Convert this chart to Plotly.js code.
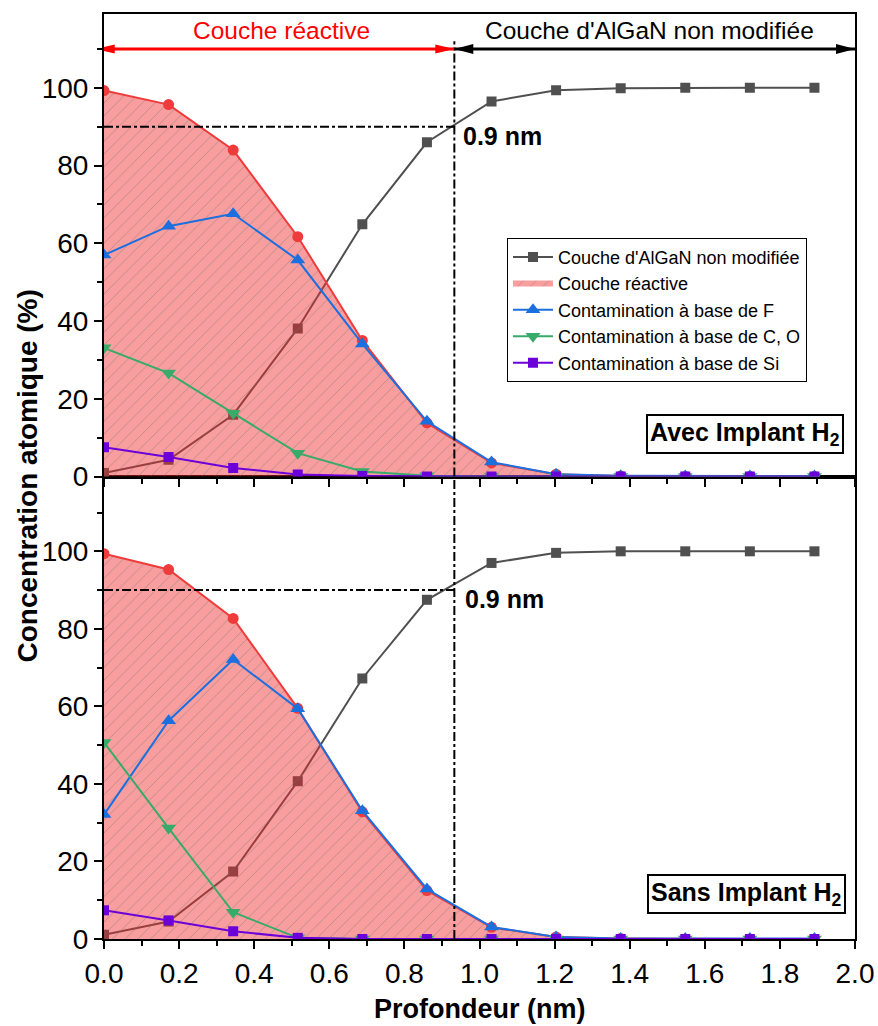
<!DOCTYPE html>
<html><head><meta charset="utf-8">
<script src="https://cdn.plot.ly/plotly-3.0.1.min.js"></script>
<style>html,body{margin:0;padding:0;background:#fff;}#chart{width:878px;height:1026px;}</style>
</head><body><div id="chart"></div>
<script>
// ---- data ----
const depth = [0, 0.172, 0.344, 0.516, 0.688, 0.86, 1.032, 1.204, 1.376, 1.548, 1.72, 1.892];

const avecAlGaN  = [0.9, 4.3, 15.9, 38.1, 64.9, 86.0, 96.5, 99.4, 99.9, 100, 100, 100];
const avecReact  = [99.3, 95.7, 84.0, 61.7, 35.0, 13.8, 3.5, 0.6, 0.1, 0, 0, 0];
const avecF      = [57.0, 64.4, 67.6, 55.7, 34.1, 14.2, 3.7, 0.6, 0.2, 0.1, 0.1, 0.1];
const avecCO     = [33.1, 26.6, 16.3, 6.0, 1.3, 0.2, 0, 0, 0, 0, 0, 0];
const avecSi     = [7.5, 5.0, 2.2, 0.5, 0.1, 0, 0, 0, 0, 0, 0, 0];

const sansAlGaN  = [1.1, 4.5, 17.4, 40.7, 67.2, 87.5, 97.0, 99.6, 100, 100, 100, 100];
const sansReact  = [99.4, 95.3, 82.7, 59.5, 32.8, 12.5, 3.0, 0.5, 0.1, 0, 0, 0];
const sansF      = [32.1, 56.3, 72.1, 59.4, 33.1, 12.9, 3.1, 0.5, 0.1, 0.1, 0.1, 0.1];
const sansCO     = [50.7, 28.6, 6.9, 0.3, 0, 0, 0, 0, 0, 0, 0, 0];
const sansSi     = [7.4, 4.8, 2.0, 0.3, 0, 0, 0, 0, 0, 0, 0, 0];

const seriesNames = ["Couche d'AlGaN non modifiée", "Couche réactive", "Contamination à base de F",
                     "Contamination à base de C, O", "Contamination à base de Si"];
const panelLabels = ["<b>Avec Implant H<sub>2</sub></b>", "<b>Sans Implant H<sub>2</sub></b>"];
const layerLabels = ["Couche réactive", "Couche d'AlGaN non modifiée"];
const reactiveThickness = 0.933;   // nm
const thresholdPct = 90;
const thicknessLabel = "<b>0.9 nm</b>";
const xTitle = "<b>Profondeur (nm)</b>";
const yTitle = "<b>Concentration atomique (%)</b>";

// ---- styles ----
const C = {gray:'#505050', red:'#EE3B3B', blue:'#1C6FDF', green:'#38AA6A', purple:'#6C00DA'};
const FONT = 'Arial, "Liberation Sans", sans-serif';

function panel(xa, ya, alg, react, f, co, si, legend) {
  return [
    {x:depth, y:alg, xaxis:xa, yaxis:ya, name:seriesNames[0], mode:'lines+markers', showlegend:legend,
     line:{color:C.gray, width:2}, marker:{symbol:'square', size:10, color:C.gray}},
    {x:depth, y:react, xaxis:xa, yaxis:ya, name:seriesNames[1], mode:'none', fill:'tozeroy', showlegend:legend,
     fillcolor:'rgba(242,40,40,0.45)',
     fillpattern:{shape:'/', bgcolor:'rgba(242,40,40,0.45)', fgcolor:'rgba(110,110,110,0.45)', size:9, solidity:0.1}},
    {x:depth, y:react, xaxis:xa, yaxis:ya, name:seriesNames[1], mode:'lines+markers', showlegend:false,
     line:{color:C.red, width:2}, marker:{symbol:'circle', size:11, color:C.red}},
    {x:depth, y:f, xaxis:xa, yaxis:ya, name:seriesNames[2], mode:'lines+markers', showlegend:legend,
     line:{color:C.blue, width:2}, marker:{symbol:'triangle-up', size:13, color:C.blue}},
    {x:depth, y:co, xaxis:xa, yaxis:ya, name:seriesNames[3], mode:'lines+markers', showlegend:legend,
     line:{color:C.green, width:2}, marker:{symbol:'triangle-down', size:13, color:C.green}},
    {x:depth, y:si, xaxis:xa, yaxis:ya, name:seriesNames[4], mode:'lines+markers', showlegend:legend,
     line:{color:C.purple, width:2}, marker:{symbol:'square', size:10, color:C.purple}}
  ];
}

const data = [
  ...panel('x2','y2', avecAlGaN, avecReact, avecF, avecCO, avecSi, true),
  ...panel('x','y', sansAlGaN, sansReact, sansF, sansCO, sansSi, false)
];

const axisBase = {
  showline:true, linewidth:2, linecolor:'#000', mirror:true,
  ticks:'outside', ticklen:8, tickwidth:2, tickcolor:'#000',
  showgrid:false, zeroline:false,
  tickfont:{size:28, family:FONT, color:'#000'}
};
const xMinor = {dtick:0.1, ticks:'outside', ticklen:5, tickwidth:2, tickcolor:'#000', showgrid:false};
const yMinor = {dtick:10, ticks:'outside', ticklen:5, tickwidth:2, tickcolor:'#000', showgrid:false};

const yTop = 119.3;
const dd = {color:'#000', width:2, dash:'dashdot'};
const shapes = [
  {type:'line', xref:'x2', yref:'y2', x0:0, x1:reactiveThickness, y0:thresholdPct, y1:thresholdPct, line:dd},
  {type:'line', xref:'x2', yref:'y2', x0:reactiveThickness, x1:reactiveThickness, y0:0, y1:112, line:dd},
  {type:'line', xref:'x', yref:'y', x0:0, x1:reactiveThickness, y0:thresholdPct, y1:thresholdPct, line:dd},
  {type:'line', xref:'x', yref:'y', x0:reactiveThickness, x1:reactiveThickness, y0:0, y1:yTop, line:dd},
  // arrows
  {type:'line', xref:'x2', yref:'y2', x0:-0.022, x1:reactiveThickness, y0:110, y1:110, line:{color:'#FF0000', width:3}},
  {type:'line', xref:'x2', yref:'y2', x0:reactiveThickness, x1:2, y0:110, y1:110, line:{color:'#000', width:3}},
  {type:'path', xref:'x2', yref:'y2', xsizemode:'pixel', ysizemode:'pixel', xanchor:-0.022, yanchor:110,
   path:'M0,0L19,-4.5L19,4.5Z', fillcolor:'#FF0000', line:{width:0}},
  {type:'path', xref:'x2', yref:'y2', xsizemode:'pixel', ysizemode:'pixel', xanchor:reactiveThickness, yanchor:110,
   path:'M0,0L-19,-4.5L-19,4.5Z', fillcolor:'#FF0000', line:{width:0}},
  {type:'path', xref:'x2', yref:'y2', xsizemode:'pixel', ysizemode:'pixel', xanchor:reactiveThickness, yanchor:110,
   path:'M0,0L19,-5L19,5Z', fillcolor:'#000', line:{width:0}},
  {type:'path', xref:'x2', yref:'y2', xsizemode:'pixel', ysizemode:'pixel', xanchor:2, yanchor:110,
   path:'M0,0L-19,-5L-19,5Z', fillcolor:'#000', line:{width:0}}
];

const annotations = [
  {xref:'x2', yref:'y2', x:0.472, y:114.7, text:layerLabels[0], showarrow:false,
   font:{size:24.5, color:'#FF0000', family:FONT}},
  {xref:'x2', yref:'y2', x:1.454, y:114.7, text:layerLabels[1], showarrow:false,
   font:{size:24.5, color:'#000', family:FONT}},
  {xref:'x2', yref:'y2', x:0.952, y:87.7, xanchor:'left', text:thicknessLabel, showarrow:false,
   font:{size:25, color:'#000', family:FONT}},
  {xref:'x', yref:'y', x:0.957, y:87.6, xanchor:'left', text:thicknessLabel, showarrow:false,
   font:{size:25, color:'#000', family:FONT}},
  {xref:'x2', yref:'y2', x:1.971, y:10.9, xanchor:'right', yanchor:'middle', text:panelLabels[0], showarrow:false,
   bordercolor:'#000', borderwidth:2, borderpad:2, bgcolor:'#fff', font:{size:25, color:'#000', family:FONT}},
  {xref:'x', yref:'y', x:1.976, y:11.6, xanchor:'right', yanchor:'middle', text:panelLabels[1], showarrow:false,
   bordercolor:'#000', borderwidth:2, borderpad:2, bgcolor:'#fff', font:{size:25, color:'#000', family:FONT}},
  {xref:'paper', yref:'paper', x:0.5, y:0, xanchor:'center', yanchor:'middle', yshift:-70, text:xTitle, showarrow:false,
   font:{size:27, color:'#000', family:FONT}},
  {xref:'paper', yref:'paper', x:0, y:0.5, xanchor:'center', yanchor:'middle', xshift:-77, textangle:-90, text:yTitle, showarrow:false,
   font:{size:28, color:'#000', family:FONT}}
];

const layout = {
  width:878, height:1026,
  margin:{l:104, r:23, t:14, b:87},
  paper_bgcolor:'#fff', plot_bgcolor:'#fff',
  font:{family:FONT, color:'#000', size:18},
  showlegend:true,
  legend:{x:0.5366, y:0.758, xanchor:'left', yanchor:'top', bgcolor:'rgba(255,255,255,0)',
          bordercolor:'#000', borderwidth:1, font:{size:18, family:FONT, color:'#000'},
          itemwidth:40, tracegroupgap:0, traceorder:'normal'},
  xaxis:Object.assign({}, axisBase, {domain:[0,1], anchor:'y', range:[0,2], dtick:0.2, tickformat:'.1f', minor:xMinor}),
  yaxis:Object.assign({}, axisBase, {domain:[0,0.5], anchor:'x', range:[0,yTop], dtick:20, minor:yMinor}),
  xaxis2:Object.assign({}, axisBase, {domain:[0,1], anchor:'y2', range:[0,2], dtick:0.2, showticklabels:false, minor:xMinor}),
  yaxis2:Object.assign({}, axisBase, {domain:[0.5,1], anchor:'x2', range:[0,119], dtick:20, minor:yMinor}),
  shapes:shapes,
  annotations:annotations
};

Plotly.newPlot('chart', data, layout, {displayModeBar:false, staticPlot:true});
</script>
</body></html>
